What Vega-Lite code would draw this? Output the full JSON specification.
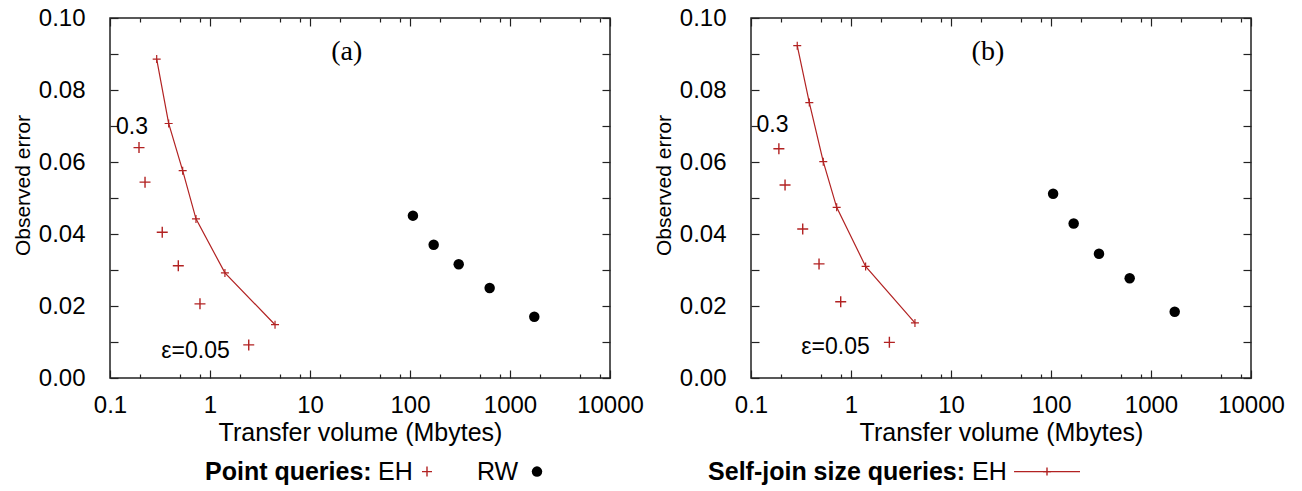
{
  "$schema": "https://vega.github.io/schema/vega-lite/v6.json",
  "padding": {"left": 11, "top": 5, "right": 0, "bottom": 0},
  "bounds": "flush",
  "spacing": 141,
  "config": {
    "font": "Liberation Sans",
    "view": {"stroke": "#222", "strokeWidth": 1.5},
    "axis": {
      "grid": false,
      "domain": false,
      "tickColor": "#222",
      "tickWidth": 1.2,
      "labelColor": "black",
      "titleColor": "black",
      "labelFont": "Liberation Sans",
      "titleFont": "Liberation Sans",
      "labelFontSize": 24,
      "titleFontSize": 25,
      "titleFontWeight": "normal",
      "labelFlush": false,
      "labelOverlap": false
    },
    "text": {"font": "Liberation Sans", "fontSize": 24, "baseline": "middle", "color": "black"}
  },
  "datasets": {
    "main": [
      {"panel": "a", "kind": "sj", "x": 0.293, "y": 0.0886},
      {"panel": "a", "kind": "sj", "x": 0.386, "y": 0.0707},
      {"panel": "a", "kind": "sj", "x": 0.533, "y": 0.0576},
      {"panel": "a", "kind": "sj", "x": 0.724, "y": 0.0442},
      {"panel": "a", "kind": "sj", "x": 1.41, "y": 0.0292},
      {"panel": "a", "kind": "sj", "x": 4.47, "y": 0.0148},
      {"panel": "a", "kind": "pq", "x": 0.195, "y": 0.064},
      {"panel": "a", "kind": "pq", "x": 0.224, "y": 0.0544},
      {"panel": "a", "kind": "pq", "x": 0.333, "y": 0.0405},
      {"panel": "a", "kind": "pq", "x": 0.482, "y": 0.0312},
      {"panel": "a", "kind": "pq", "x": 0.794, "y": 0.0206},
      {"panel": "a", "kind": "pq", "x": 2.44, "y": 0.0092},
      {"panel": "a", "kind": "rw", "x": 107, "y": 0.0451},
      {"panel": "a", "kind": "rw", "x": 172.5, "y": 0.037},
      {"panel": "a", "kind": "rw", "x": 307, "y": 0.0316},
      {"panel": "a", "kind": "rw", "x": 626, "y": 0.025},
      {"panel": "a", "kind": "rw", "x": 1750, "y": 0.017},
      {"panel": "b", "kind": "sj", "x": 0.29, "y": 0.0923},
      {"panel": "b", "kind": "sj", "x": 0.383, "y": 0.0765},
      {"panel": "b", "kind": "sj", "x": 0.528, "y": 0.0601},
      {"panel": "b", "kind": "sj", "x": 0.719, "y": 0.0474},
      {"panel": "b", "kind": "sj", "x": 1.40, "y": 0.031},
      {"panel": "b", "kind": "sj", "x": 4.36, "y": 0.0153},
      {"panel": "b", "kind": "pq", "x": 0.19, "y": 0.0637},
      {"panel": "b", "kind": "pq", "x": 0.219, "y": 0.0536},
      {"panel": "b", "kind": "pq", "x": 0.329, "y": 0.0414},
      {"panel": "b", "kind": "pq", "x": 0.479, "y": 0.0317},
      {"panel": "b", "kind": "pq", "x": 0.789, "y": 0.0212},
      {"panel": "b", "kind": "pq", "x": 2.42, "y": 0.0099},
      {"panel": "b", "kind": "rw", "x": 105, "y": 0.0512},
      {"panel": "b", "kind": "rw", "x": 168.5, "y": 0.0429},
      {"panel": "b", "kind": "rw", "x": 302, "y": 0.0345},
      {"panel": "b", "kind": "rw", "x": 612, "y": 0.0277},
      {"panel": "b", "kind": "rw", "x": 1726, "y": 0.0184}
    ],
    "notes": [
      {"panel": "a", "kind": "serif", "label": "(a)", "x": 23.3, "y": 0.0906},
      {"panel": "a", "kind": "plain", "label": "0.3", "x": 0.166, "y": 0.0697},
      {"panel": "a", "kind": "plain", "label": "ε=0.05", "x": 0.716, "y": 0.0075},
      {"panel": "b", "kind": "serif", "label": "(b)", "x": 23.4, "y": 0.0906},
      {"panel": "b", "kind": "plain", "label": "0.3", "x": 0.164, "y": 0.0703},
      {"panel": "b", "kind": "plain", "label": "ε=0.05", "x": 0.70, "y": 0.0086},
      {"panel": "a", "kind": "legbold", "label": "Point queries:", "x": 0.891, "y": -0.026},
      {"panel": "a", "kind": "legtext", "label": "EH", "x": 47.9, "y": -0.026},
      {"panel": "a", "kind": "legtext", "label": "RW", "x": 467.7, "y": -0.026},
      {"panel": "a", "kind": "legcross", "label": "", "x": 147.9, "y": -0.026},
      {"panel": "a", "kind": "legdot", "label": "", "x": 1862, "y": -0.026},
      {"panel": "b", "kind": "legbold", "label": "Self-join size queries:", "x": 0.0372, "y": -0.026},
      {"panel": "b", "kind": "legtext", "label": "EH", "x": 16.2, "y": -0.026},
      {"panel": "b", "kind": "legcross", "label": "", "x": 91.2, "y": -0.026},
      {"panel": "b", "kind": "legline", "label": "", "x": 42.7, "y": -0.026},
      {"panel": "b", "kind": "legline", "label": "", "x": 195, "y": -0.026}
    ]
  },
  "hconcat": [
    {
      "width": 500,
      "height": 360,
      "layer": [
        {
          "data": {"name": "main"},
          "transform": [{"filter": "datum.panel == 'a' && datum.kind == 'sj'"}],
          "mark": {"type": "line", "color": "#b22222", "strokeWidth": 1.2},
          "encoding": {
            "x": {"field": "x", "type": "quantitative", "scale": {"type": "log", "domain": [0.1, 10000], "nice": false},
              "axis": {"orient": "bottom", "values": [0.1, 1, 10, 100, 1000, 10000], "format": "~r", "tickSize": -8, "labelPadding": 23, "title": "Transfer volume (Mbytes)", "titlePadding": 3}},
            "y": {"field": "y", "type": "quantitative", "scale": {"domain": [0, 0.1], "nice": false, "zero": false},
              "axis": {"orient": "left", "values": [0, 0.01, 0.02, 0.03, 0.04, 0.05, 0.06, 0.07, 0.08, 0.09, 0.1], "labelExpr": "round(datum.value*100) % 2 == 0 ? format(datum.value, '.2f') : ''", "tickSize": -8, "labelPadding": 33, "title": "Observed error", "titleFontSize": 21, "titlePadding": 5, "titleY": 167}}
          }
        },
        {
          "data": {"name": "main"},
          "transform": [{"filter": "datum.panel == 'a' && datum.kind == 'sj'"}],
          "mark": {"type": "point", "shape": "M-1,0L1,0M0,-1L0,1", "size": 64, "filled": false, "color": "#b22222", "strokeWidth": 1.2, "opacity": 1},
          "encoding": {
            "x": {"field": "x", "type": "quantitative", "axis": {"orient": "top", "values": [0.1, 1, 10, 100, 1000, 10000], "tickSize": -8, "labels": false, "title": null}},
            "y": {"field": "y", "type": "quantitative", "axis": {"orient": "right", "values": [0, 0.01, 0.02, 0.03, 0.04, 0.05, 0.06, 0.07, 0.08, 0.09, 0.1], "tickSize": -8, "labels": false, "title": null}}
          }
        },
        {
          "data": {"name": "main"},
          "transform": [{"filter": "datum.panel == 'a' && datum.kind == 'pq'"}],
          "mark": {"type": "point", "shape": "M-1,0L1,0M0,-1L0,1", "size": 121, "filled": false, "color": "#b22222", "strokeWidth": 1.4, "opacity": 1},
          "encoding": {
            "x": {"field": "x", "type": "quantitative", "axis": {"orient": "bottom", "values": [0.2, 0.5, 0.8, 2, 5, 8, 20, 50, 80, 200, 500, 800, 2000, 5000, 8000], "tickSize": -4, "labels": false, "title": null}},
            "y": {"field": "y", "type": "quantitative", "axis": null}
          }
        },
        {
          "data": {"name": "main"},
          "transform": [{"filter": "datum.panel == 'a' && datum.kind == 'rw'"}],
          "mark": {"type": "circle", "size": 110, "color": "black", "opacity": 1},
          "encoding": {
            "x": {"field": "x", "type": "quantitative", "axis": {"orient": "top", "values": [0.2, 0.5, 0.8, 2, 5, 8, 20, 50, 80, 200, 500, 800, 2000, 5000, 8000], "tickSize": -4, "labels": false, "title": null}},
            "y": {"field": "y", "type": "quantitative", "axis": null}
          }
        },
        {
          "data": {"name": "notes"},
          "transform": [{"filter": "datum.panel == 'a' && datum.kind == 'plain'"}],
          "mark": {"type": "text", "align": "center", "fontSize": 23},
          "encoding": {"x": {"field": "x", "type": "quantitative", "axis": null}, "y": {"field": "y", "type": "quantitative", "axis": null}, "text": {"field": "label"}}
        },
        {
          "data": {"name": "notes"},
          "transform": [{"filter": "datum.panel == 'a' && datum.kind == 'serif'"}],
          "mark": {"type": "text", "align": "center", "font": "Liberation Serif", "fontSize": 28},
          "encoding": {"x": {"field": "x", "type": "quantitative", "axis": null}, "y": {"field": "y", "type": "quantitative", "axis": null}, "text": {"field": "label"}}
        },
        {
          "data": {"name": "notes"},
          "transform": [{"filter": "datum.panel == 'a' && datum.kind == 'legbold'"}],
          "mark": {"type": "text", "align": "left", "fontWeight": "bold", "fontSize": 25},
          "encoding": {"x": {"field": "x", "type": "quantitative", "axis": null}, "y": {"field": "y", "type": "quantitative", "axis": null}, "text": {"field": "label"}}
        },
        {
          "data": {"name": "notes"},
          "transform": [{"filter": "datum.panel == 'a' && datum.kind == 'legtext'"}],
          "mark": {"type": "text", "align": "left", "fontSize": 25},
          "encoding": {"x": {"field": "x", "type": "quantitative", "axis": null}, "y": {"field": "y", "type": "quantitative", "axis": null}, "text": {"field": "label"}}
        },
        {
          "data": {"name": "notes"},
          "transform": [{"filter": "datum.panel == 'a' && datum.kind == 'legcross'"}],
          "mark": {"type": "point", "shape": "M-1,0L1,0M0,-1L0,1", "size": 100, "filled": false, "color": "#b22222", "strokeWidth": 1.4, "opacity": 1},
          "encoding": {"x": {"field": "x", "type": "quantitative", "axis": null}, "y": {"field": "y", "type": "quantitative", "axis": null}}
        },
        {
          "data": {"name": "notes"},
          "transform": [{"filter": "datum.panel == 'a' && datum.kind == 'legdot'"}],
          "mark": {"type": "circle", "size": 110, "color": "black", "opacity": 1},
          "encoding": {"x": {"field": "x", "type": "quantitative", "axis": null}, "y": {"field": "y", "type": "quantitative", "axis": null}}
        }
      ],
      "resolve": {"axis": {"x": "independent", "y": "independent"}}
    },
    {
      "width": 500,
      "height": 360,
      "layer": [
        {
          "data": {"name": "main"},
          "transform": [{"filter": "datum.panel == 'b' && datum.kind == 'sj'"}],
          "mark": {"type": "line", "color": "#b22222", "strokeWidth": 1.2},
          "encoding": {
            "x": {"field": "x", "type": "quantitative", "scale": {"type": "log", "domain": [0.1, 10000], "nice": false},
              "axis": {"orient": "bottom", "values": [0.1, 1, 10, 100, 1000, 10000], "format": "~r", "tickSize": -8, "labelPadding": 23, "title": "Transfer volume (Mbytes)", "titlePadding": 3}},
            "y": {"field": "y", "type": "quantitative", "scale": {"domain": [0, 0.1], "nice": false, "zero": false},
              "axis": {"orient": "left", "values": [0, 0.01, 0.02, 0.03, 0.04, 0.05, 0.06, 0.07, 0.08, 0.09, 0.1], "labelExpr": "round(datum.value*100) % 2 == 0 ? format(datum.value, '.2f') : ''", "tickSize": -8, "labelPadding": 33, "title": "Observed error", "titleFontSize": 21, "titlePadding": 5, "titleY": 167}}
          }
        },
        {
          "data": {"name": "main"},
          "transform": [{"filter": "datum.panel == 'b' && datum.kind == 'sj'"}],
          "mark": {"type": "point", "shape": "M-1,0L1,0M0,-1L0,1", "size": 64, "filled": false, "color": "#b22222", "strokeWidth": 1.2, "opacity": 1},
          "encoding": {
            "x": {"field": "x", "type": "quantitative", "axis": {"orient": "top", "values": [0.1, 1, 10, 100, 1000, 10000], "tickSize": -8, "labels": false, "title": null}},
            "y": {"field": "y", "type": "quantitative", "axis": {"orient": "right", "values": [0, 0.01, 0.02, 0.03, 0.04, 0.05, 0.06, 0.07, 0.08, 0.09, 0.1], "tickSize": -8, "labels": false, "title": null}}
          }
        },
        {
          "data": {"name": "main"},
          "transform": [{"filter": "datum.panel == 'b' && datum.kind == 'pq'"}],
          "mark": {"type": "point", "shape": "M-1,0L1,0M0,-1L0,1", "size": 121, "filled": false, "color": "#b22222", "strokeWidth": 1.4, "opacity": 1},
          "encoding": {
            "x": {"field": "x", "type": "quantitative", "axis": {"orient": "bottom", "values": [0.2, 0.5, 0.8, 2, 5, 8, 20, 50, 80, 200, 500, 800, 2000, 5000, 8000], "tickSize": -4, "labels": false, "title": null}},
            "y": {"field": "y", "type": "quantitative", "axis": null}
          }
        },
        {
          "data": {"name": "main"},
          "transform": [{"filter": "datum.panel == 'b' && datum.kind == 'rw'"}],
          "mark": {"type": "circle", "size": 110, "color": "black", "opacity": 1},
          "encoding": {
            "x": {"field": "x", "type": "quantitative", "axis": {"orient": "top", "values": [0.2, 0.5, 0.8, 2, 5, 8, 20, 50, 80, 200, 500, 800, 2000, 5000, 8000], "tickSize": -4, "labels": false, "title": null}},
            "y": {"field": "y", "type": "quantitative", "axis": null}
          }
        },
        {
          "data": {"name": "notes"},
          "transform": [{"filter": "datum.panel == 'b' && datum.kind == 'plain'"}],
          "mark": {"type": "text", "align": "center", "fontSize": 23},
          "encoding": {"x": {"field": "x", "type": "quantitative", "axis": null}, "y": {"field": "y", "type": "quantitative", "axis": null}, "text": {"field": "label"}}
        },
        {
          "data": {"name": "notes"},
          "transform": [{"filter": "datum.panel == 'b' && datum.kind == 'serif'"}],
          "mark": {"type": "text", "align": "center", "font": "Liberation Serif", "fontSize": 28},
          "encoding": {"x": {"field": "x", "type": "quantitative", "axis": null}, "y": {"field": "y", "type": "quantitative", "axis": null}, "text": {"field": "label"}}
        },
        {
          "data": {"name": "notes"},
          "transform": [{"filter": "datum.panel == 'b' && datum.kind == 'legbold'"}],
          "mark": {"type": "text", "align": "left", "fontWeight": "bold", "fontSize": 25},
          "encoding": {"x": {"field": "x", "type": "quantitative", "axis": null}, "y": {"field": "y", "type": "quantitative", "axis": null}, "text": {"field": "label"}}
        },
        {
          "data": {"name": "notes"},
          "transform": [{"filter": "datum.panel == 'b' && datum.kind == 'legtext'"}],
          "mark": {"type": "text", "align": "left", "fontSize": 25},
          "encoding": {"x": {"field": "x", "type": "quantitative", "axis": null}, "y": {"field": "y", "type": "quantitative", "axis": null}, "text": {"field": "label"}}
        },
        {
          "data": {"name": "notes"},
          "transform": [{"filter": "datum.panel == 'b' && datum.kind == 'legline'"}],
          "mark": {"type": "line", "color": "#b22222", "strokeWidth": 1.4},
          "encoding": {"x": {"field": "x", "type": "quantitative", "axis": null}, "y": {"field": "y", "type": "quantitative", "axis": null}}
        },
        {
          "data": {"name": "notes"},
          "transform": [{"filter": "datum.panel == 'b' && datum.kind == 'legcross'"}],
          "mark": {"type": "point", "shape": "M-1,0L1,0M0,-1L0,1", "size": 64, "filled": false, "color": "#b22222", "strokeWidth": 1.4, "opacity": 1},
          "encoding": {"x": {"field": "x", "type": "quantitative", "axis": null}, "y": {"field": "y", "type": "quantitative", "axis": null}}
        }
      ],
      "resolve": {"axis": {"x": "independent", "y": "independent"}}
    }
  ]
}
